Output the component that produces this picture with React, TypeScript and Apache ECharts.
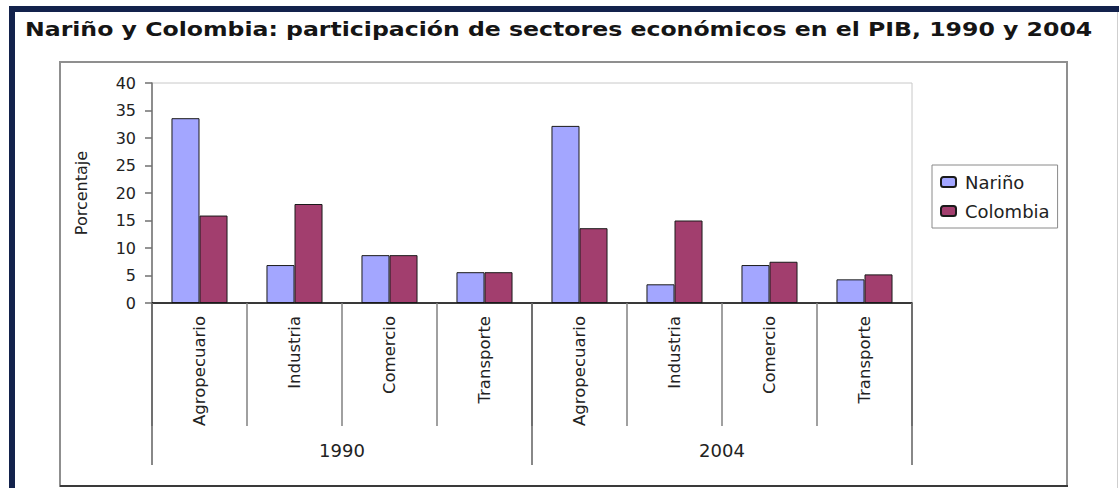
import React, { useEffect, useRef } from "react";
import * as echarts from "echarts";

const categories = ["Agropecuario", "Industria", "Comercio", "Transporte", "Agropecuario", "Industria", "Comercio", "Transporte"];
const years = ["1990", "2004"];
const narino = [33.6, 6.9, 8.7, 5.6, 32.2, 3.4, 6.9, 4.3];
const colombia = [15.9, 18.0, 8.7, 5.6, 13.6, 15.0, 7.5, 5.2];
const seriesNames = ["Nariño", "Colombia"];
const titleText = "Nariño y Colombia: participación de sectores económicos en el PIB, 1990 y 2004";
const yName = "Porcentaje";

const FONT = "'DejaVu Sans', 'Liberation Sans', Arial, sans-serif";

export default function App() {
  const ref = useRef<HTMLDivElement>(null);
  useEffect(() => {
    if (!ref.current) return;
    const chart = echarts.init(ref.current, null, { renderer: "svg" });
    chart.setOption({
      animation: false,
      backgroundColor: "#ffffff",
      textStyle: { fontFamily: FONT },
      graphic: [
        { type: "rect", shape: { x: 9, y: 6, width: 1110, height: 6 }, style: { fill: "#13224c" }, z: 10 },
        { type: "rect", shape: { x: 9, y: 6, width: 6, height: 482 }, style: { fill: "#13224c" }, z: 10 },
        { type: "line", shape: { x1: 1117.5, y1: 12, x2: 1117.5, y2: 488 }, style: { stroke: "#cfcfcf", lineWidth: 1 }, z: 10 },
        { type: "rect", shape: { x: 60, y: 62, width: 1007, height: 424 }, style: { fill: "none", stroke: "#8f8f8f", lineWidth: 2 }, z: 0 },
        { type: "line", shape: { x1: 60, y1: 486, x2: 1068, y2: 486 }, style: { stroke: "#3a3a3a", lineWidth: 2 }, z: 1 },
        {
          type: "text",
          x: 25,
          y: 29,
          scaleX: 1.18,
          style: { text: titleText, font: "bold 20px " + FONT, fill: "#151515", verticalAlign: "middle", textAlign: "left" },
          z: 10,
        },
      ],
      grid: { left: 152, top: 83, width: 760, height: 220, show: true, borderColor: "#c8c8c8", borderWidth: 1, containLabel: false },
      legend: {
        orient: "vertical",
        left: 932,
        top: 165,
        padding: [8, 8, 8, 8],
        itemGap: 11,
        itemWidth: 15,
        itemHeight: 10,
        borderColor: "#8a8a8a",
        borderWidth: 1,
        textStyle: { fontSize: 18, color: "#222", fontFamily: FONT, padding: [0, 0, 0, 4] },
        data: seriesNames,
      },
      xAxis: [
        {
          type: "category",
          position: "bottom",
          data: categories,
          axisLine: { lineStyle: { color: "#000", width: 1.5 } },
          axisTick: { show: true, interval: 0, length: 123, lineStyle: { color: "#808080", width: 1.5 } },
          axisLabel: { rotate: 90, interval: 0, margin: 13, fontSize: 16.5, color: "#222", fontFamily: FONT },
          splitLine: { show: false },
        },
        {
          type: "category",
          position: "bottom",
          data: years,
          axisLine: { show: false },
          axisTick: { show: true, interval: 0, length: 162, lineStyle: { color: "#606060", width: 1.5 } },
          axisLabel: { interval: 0, margin: 138, fontSize: 18, color: "#222", fontFamily: FONT },
          splitLine: { show: false },
        },
      ],
      yAxis: {
        type: "value",
        min: 0,
        max: 40,
        interval: 5,
        name: yName,
        nameLocation: "middle",
        nameRotate: 90,
        nameGap: 63,
        nameTextStyle: { fontSize: 16, color: "#222", fontFamily: FONT },
        axisLine: { show: true, lineStyle: { color: "#707070", width: 1.5 } },
        axisTick: { show: true, length: 7, lineStyle: { color: "#707070", width: 1.5 } },
        axisLabel: { margin: 16, fontSize: 16, color: "#222", fontFamily: FONT },
        splitLine: { show: false },
      },
      series: [
        {
          name: seriesNames[0],
          type: "bar",
          xAxisIndex: 0,
          data: narino,
          barGap: "0%",
          barCategoryGap: "41%",
          itemStyle: { color: "#a3a6ff", borderColor: "#1a1a1a", borderWidth: 1 },
        },
        {
          name: seriesNames[1],
          type: "bar",
          xAxisIndex: 0,
          data: colombia,
          barGap: "0%",
          barCategoryGap: "41%",
          itemStyle: { color: "#a23e6e", borderColor: "#1a1a1a", borderWidth: 1 },
        },
      ],
    });
    return () => chart.dispose();
  }, []);
  return (
    <div
      ref={ref}
      style={{ position: "fixed", left: 0, top: 0, width: 1119, height: 488, background: "#fff" }}
    />
  );
}
